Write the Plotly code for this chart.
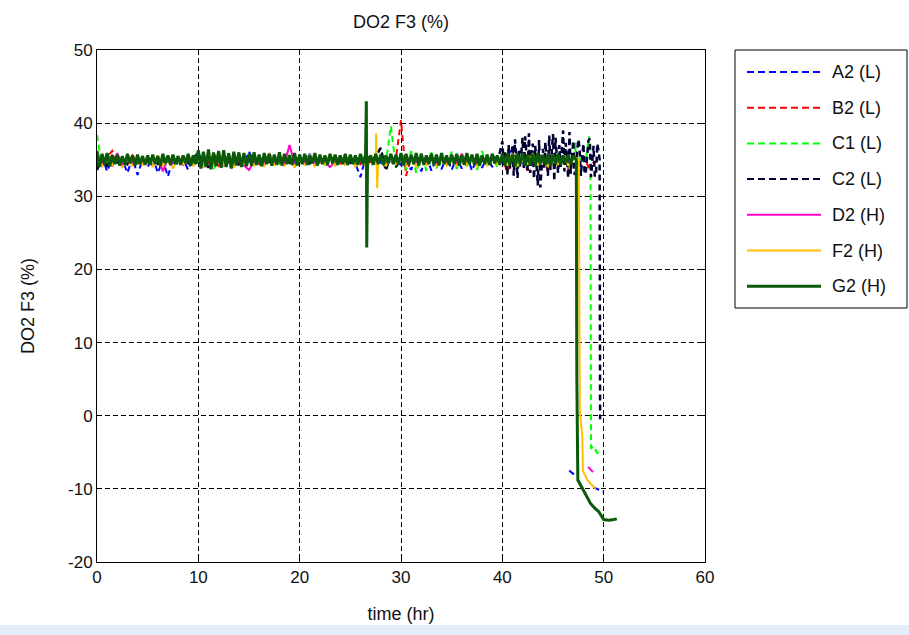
import plotly.graph_objects as go

# ---------------- data ----------------
STEP = 0.5      # hr between main samples (start at t = 0)
STEP_G2 = 0.25  # G2 logged twice as often

series_names = ["A2 (L)", "B2 (L)", "C1 (L)", "C2 (L)", "D2 (H)", "F2 (H)", "G2 (H)"]
series_colors = ["#0000FF", "#FF0000", "#00FF00", "#000033", "#FF00CC", "#FFC000", "#0A5A0A"]
series_dash = ["dash", "dash", "dash", "dash", "solid", "solid", "solid"]

a2_main = [34.2, 35.5, 33.4, 35.2, 34.5, 35.0, 33.2, 35.3, 32.9, 35.1,
           34.0, 35.4, 33.2, 35.0, 32.7, 35.2, 34.3, 35.1, 33.6, 35.3,
           36.0, 34.5, 35.2, 34.7, 35.4, 34.6, 35.3, 34.8, 35.5, 34.5,
           36.1, 34.6, 35.3, 34.4, 35.2, 34.7, 35.5, 34.5, 35.1, 34.8,
           35.3, 34.6, 35.8, 34.5, 35.2, 34.7, 35.4, 34.6, 35.0, 34.8,
           35.2, 34.5, 32.6, 35.3, 34.7, 35.1, 34.6, 35.4, 34.5, 35.2,
           34.3, 35.1, 33.6, 35.4, 33.4, 35.6, 33.5, 35.2, 33.7, 35.5,
           33.6, 35.3, 33.8, 35.7, 33.5, 35.2, 33.9, 35.4, 34.0, 35.6,
           34.2, 35.3, 36.8, 34.5, 35.2, 34.3, 35.4, 34.6, 35.1, 34.5,
           35.3, 34.6, 35.2]
a2_extra_t = [46.3, 46.6, 47.3, 47.5, 49.0, 50.0]
a2_extra_v = [None, -7.5, -8.3, None, -9.8, -10.4]

b2_main = [35.0, 34.3, 35.4, 36.2, 34.6, 35.3, 34.4, 35.6, 34.5, 35.1,
           34.6, 35.3, 34.4, 35.2, 34.7, 35.0, 34.5, 35.4, 34.6, 35.2,
           34.4, 35.5, 34.6, 35.3, 34.2, 35.4, 34.7, 35.1, 34.5, 35.3,
           34.6, 35.2, 34.4, 35.5, 34.7, 35.1, 34.5, 35.3, 34.6, 35.2,
           34.8, 35.0, 34.5, 35.4, 34.6, 35.2, 34.7, 35.1, 34.5, 35.3,
           34.6, 35.2, 34.4, 35.3, 34.7, 35.1, 34.5, 35.6, 34.3, 35.2,
           40.4, 32.8, 35.3, 34.5, 35.2, 34.6, 35.1, 34.4, 35.3, 34.6,
           35.2, 34.5, 35.4, 34.7, 35.1, 34.4, 35.3, 34.6, 35.2, 34.5,
           35.4, 33.2, 35.6, 34.0, 35.3, 33.5, 35.5, 34.2, 35.2, 33.6,
           35.4, 34.1, 35.6, 33.8, 35.3]
b2_extra_t = [47.5, 48.0, 48.5, 49.0]
b2_extra_v = [34.4, 35.5, 34.0, 34.6]

c1_main = [38.4, 34.0, 36.0, 34.5, 35.4, 34.2, 35.6, 34.6, 35.1, 34.4,
           35.3, 34.5, 35.0, 34.3, 35.4, 34.6, 35.2, 34.7, 35.5, 34.3,
           35.4, 34.1, 35.7, 33.6, 35.3, 34.2, 35.6, 34.4, 35.2, 34.5,
           35.5, 34.6, 35.3, 34.4, 35.1, 34.7, 35.4, 34.3, 35.6, 34.5,
           35.2, 34.6, 35.5, 34.4, 35.3, 34.2, 35.7, 34.5, 35.1, 34.6,
           35.4, 34.3, 35.2, 34.6, 35.5, 34.4, 35.3, 34.5, 39.6, 33.9,
           35.8, 33.6, 36.2, 33.2, 35.9, 33.5, 36.0, 33.8, 35.7, 34.0,
           36.1, 33.7, 35.9, 34.1, 35.6, 33.6, 36.2, 34.0, 35.8, 33.9,
           35.6, 34.2, 35.4, 33.8, 35.9, 34.3, 35.5, 34.1, 35.7, 34.4,
           35.3, 34.2, 35.6, 34.0, 35.4]
c1_extra_t = [47.2, 47.3, 47.6, 48.0, 48.3, 48.55, 48.7, 48.75, 49.1, 49.3, 49.8]
c1_extra_v = [37.3, 32.5, 35.2, 34.8, 35.5, 38.2, 35.0, -4.4, -4.2, -5.0, -5.5]

c2_main = [33.6, 35.3, 34.2, 35.5, 34.6, 35.1, 34.4, 35.2, 34.8, 35.0,
           34.7, 35.3, 34.5, 35.1, 34.6, 35.2, 34.9, 35.0, 34.5, 35.4,
           34.2, 35.6, 33.9, 35.8, 34.5, 35.3, 34.7, 35.5, 34.4, 35.2,
           34.8, 35.1, 34.6, 35.3, 34.7, 35.2, 34.9, 35.0, 34.6, 35.4,
           34.7, 35.2, 34.5, 35.3, 34.8, 35.1, 34.6, 35.4, 34.9, 35.0,
           34.6, 35.3, 34.8, 35.2, 34.7, 35.5, 36.6, 33.5, 35.8, 34.0,
           35.4, 34.6, 35.2, 34.8, 35.3, 34.5, 35.6, 34.7, 35.1, 34.6,
           35.3, 34.7, 35.5, 34.4, 35.2, 34.6, 35.4, 34.3, 35.7, 34.5,
           37.5, 33.0, 36.8, 32.5, 38.0, 33.5, 37.2, 31.5, 36.5, 32.8,
           38.5, 33.2, 39.0, 32.5, 37.6]
c2_extra_t = [40.125, 40.25, 40.625, 40.75, 41.125, 41.25, 41.625, 41.75,
              42.125, 42.25, 42.625, 42.75, 43.125, 43.25, 43.625, 43.75,
              44.125, 44.25, 44.625, 44.75, 45.125, 45.25, 45.625, 45.75,
              46.125, 46.25, 46.625, 46.75, 47.125, 47.25, 47.5, 47.625,
              47.75, 48.0, 48.125, 48.25, 48.5, 48.625, 48.75, 49.0,
              49.125, 49.25, 49.375, 49.5, 49.6, 49.65]
c2_extra_v = [34.5, 36.2, 37.0, 33.8, 32.8, 37.8, 36.4, 34.0,
              33.6, 38.2, 38.6, 33.2, 32.4, 36.9, 37.7, 31.2,
              33.9, 37.4, 38.3, 33.6, 32.1, 38.0, 37.0, 34.0,
              33.4, 37.3, 38.8, 33.1, 32.9, 34.2, 37.8, 36.6,
              32.8, 37.2, 33.0, 33.5, 37.6, 37.9, 32.6, 36.9,
              32.7, 33.2, 37.2, 36.2, 35.0, -0.5]

d2_main = [35.2, 34.5, 35.6, 34.1, 35.9, 34.3, 35.0, 34.6, 35.3, 34.4,
           35.1, 34.2, 35.4, 33.4, 35.2, 34.5, 35.0, 34.3, 35.5, 34.6,
           35.3, 34.0, 35.6, 34.4, 35.2, 34.1, 35.7, 34.3, 35.0, 34.2,
           33.6, 34.8, 35.4, 34.5, 35.9, 34.6, 35.3, 34.4, 37.0, 34.5,
           35.4, 34.7, 35.6, 34.3, 35.2, 34.6, 34.0, 34.8, 35.5, 34.4,
           35.3, 34.6, 35.1, 34.5, 35.4, 34.7, 35.2, 34.4, 35.6, 34.6,
           35.3, 34.5, 35.1, 34.8, 35.5, 34.6, 35.2, 34.4, 35.3, 34.7,
           35.4, 34.6, 35.8, 34.5, 35.2, 34.7, 35.3, 34.6, 35.1, 34.8,
           35.3, 34.5, 35.6, 34.7, 35.2, 34.6, 35.4, 34.5, 35.3, 34.7,
           35.2, 34.6, 35.4, 34.8, 35.1]
d2_extra_t = [47.2, 48.45, 48.95]
d2_extra_v = [None, -7.0, -7.7]

f2_main = [36.3, 34.0, 35.6, 34.2, 35.4, 33.9, 35.2, 34.1, 35.5, 34.3,
           35.3, 34.0, 35.6, 34.2, 35.1, 33.8, 35.4, 34.3, 35.7, 34.1,
           35.2, 34.0, 35.9, 34.3, 36.0, 34.2, 35.5, 33.9, 35.8, 34.4,
           35.6, 34.1, 35.4, 34.0, 35.9, 34.3, 35.2, 34.1, 35.6, 33.9,
           35.3, 34.2, 35.7, 34.0, 35.5, 34.3, 35.8, 34.1, 35.4, 34.2,
           35.6, 34.0, 35.3, 34.2, 35.5, 34.4, 35.2, 34.1, 35.6, 34.3,
           35.5, 34.2, 35.4, 34.0, 35.7, 34.3, 35.2, 34.1, 35.5, 34.2,
           35.3, 34.1, 35.6, 34.3, 35.4, 34.0, 35.5, 34.2, 35.3, 34.4,
           35.6, 34.2, 35.8, 34.1, 35.5, 34.3, 35.9, 34.2, 35.6, 34.0,
           35.7, 34.3, 35.5, 34.2, 35.4]
f2_extra_t = [27.55, 27.65, 27.75, 47.55, 47.65, 47.9, 47.95, 48.4, 49.2]
f2_extra_v = [38.6, 31.1, 35.0, 35.0, 0.5, -3.0, -7.5, -8.8, -10.0]

g2_main = [36.2, 34.0, 35.8, 34.3, 35.9, 34.1, 35.6, 34.4, 35.7, 34.2,
           35.5, 34.3, 35.8, 34.5, 35.6, 34.2, 35.7, 34.4, 35.5, 34.3,
           35.6, 34.3, 35.7, 34.4, 35.5, 34.2, 35.8, 34.5, 35.6, 34.3,
           35.7, 34.4, 35.5, 34.3, 35.6, 34.5, 35.8, 34.2, 35.6, 34.4,
           36.3, 33.8, 36.1, 34.0, 36.4, 33.7, 36.0, 34.1, 36.2, 33.9,
           36.3, 34.0, 35.9, 33.8, 36.1, 34.2, 36.0, 34.0, 35.9, 34.1,
           35.8, 34.2, 36.0, 34.3, 35.7, 34.1, 35.9, 34.4, 35.8, 34.2,
           35.7, 34.3, 36.0, 34.2, 35.8, 34.4, 35.6, 34.3, 35.9, 34.2,
           35.7, 34.4, 35.8, 34.3, 35.6, 34.5, 35.9, 34.2, 35.7, 34.4,
           35.6, 34.3, 35.8, 34.5, 35.7, 34.3, 35.6, 34.4, 35.8, 34.3,
           35.7, 34.4, 35.6, 34.3, 35.8, 34.4, 35.7, 34.5, 35.6, 34.3,
           35.8, 34.4, 35.7, 34.3, 35.6, 34.5, 35.8, 34.4, 35.7, 34.3,
           35.9, 34.2, 35.8, 34.3, 35.7, 34.4, 35.9, 34.2, 35.8, 34.3,
           35.6, 34.4, 35.8, 34.3, 35.7, 34.2, 35.9, 34.4, 35.6, 34.3,
           35.7, 34.4, 35.8, 34.2, 35.6, 34.3, 35.9, 34.4, 35.7, 34.3,
           35.8, 34.2, 35.6, 34.4, 35.7, 34.3, 35.8, 34.5, 35.6, 34.3,
           35.8, 34.2, 35.9, 34.3, 35.7, 34.1, 35.8, 34.4, 35.9, 34.2,
           35.7, 34.3, 35.8, 34.2, 35.9, 34.4, 35.6, 34.3, 35.8, 34.2,
           35.7, 34.4, 35.8, 34.3, 35.6, 34.5, 35.7, 34.4, 35.5]
g2_extra_t = [26.58, 26.62, 26.7, 47.3, 47.35, 47.45, 48.0, 48.3, 48.7, 49.1,
              49.5, 50.0, 50.5, 51.0, 51.3]
g2_extra_v = [43.0, 23.0, 35.5, 35.0, 5.6, -8.8, -10.2, -11.0, -12.0, -12.6,
              -13.1, -14.2, -14.3, -14.2, -14.1]

x_ticks = [0, 10, 20, 30, 40, 50, 60]
y_ticks = [-20, -10, 0, 10, 20, 30, 40, 50]

mains = [a2_main, b2_main, c1_main, c2_main, d2_main, f2_main, g2_main]
steps = [STEP, STEP, STEP, STEP, STEP, STEP, STEP_G2]
extras_t = [a2_extra_t, b2_extra_t, c1_extra_t, c2_extra_t, d2_extra_t, f2_extra_t, g2_extra_t]
extras_v = [a2_extra_v, b2_extra_v, c1_extra_v, c2_extra_v, d2_extra_v, f2_extra_v, g2_extra_v]


def build(main_vals, step, et, ev):
    t = [i * step for i in range(len(main_vals))] + list(et)
    v = list(main_vals) + list(ev)
    order = sorted(range(len(t)), key=lambda k: t[k])
    return [t[k] for k in order], [v[k] for k in order]


# ---------------- figure ----------------
W, H = 909, 635
L, R, T, B = 97, 705, 50, 562  # plot-area pixel box
FONT = "Liberation Sans Narrow, Arial Narrow, Liberation Sans, Arial, sans-serif"
TXT = "#111111"

fig = go.Figure()
widths = [2, 2, 2, 2.5, 2, 2, 3]
for i, name in enumerate(series_names):
    tx, vy = build(mains[i], steps[i], extras_t[i], extras_v[i])
    fig.add_trace(go.Scatter(
        x=tx, y=vy, mode="lines", name=name,
        line=dict(color=series_colors[i], width=widths[i],
                  dash="6px,4px" if series_dash[i] == "dash" else "solid"),
        connectgaps=False, showlegend=False, hoverinfo="skip"))


def px_x(p):
    return (p - L) / (R - L)


def px_y(p):
    return (B - p) / (B - T)


axis_common = dict(
    showline=True, linecolor="black", linewidth=1, mirror="ticks",
    ticks="inside", ticklen=5, tickcolor="black",
    showgrid=True, gridcolor="black", gridwidth=1, griddash="5px,3px",
    zeroline=False, tickfont=dict(family=FONT, size=17, color=TXT),
)

fig.update_layout(
    width=W, height=H,
    margin=dict(l=L, r=W - R, t=T, b=H - B, pad=0),
    paper_bgcolor="white", plot_bgcolor="white",
    font=dict(family=FONT, size=17, color=TXT),
    title=dict(text="DO2 F3 (%)", x=px_x((L + R) / 2), xref="paper", xanchor="center",
               y=1 - 22 / H, yanchor="middle", font=dict(family=FONT, size=18, color=TXT)),
    xaxis=dict(range=[0, 60], tickvals=x_ticks, ticktext=[str(v) for v in x_ticks],
               title=dict(text="time (hr)", font=dict(family=FONT, size=18, color=TXT), standoff=20),
               **axis_common),
    yaxis=dict(range=[-20, 50], tickvals=y_ticks, ticktext=[str(v) for v in y_ticks],
               title=dict(text="DO2 F3 (%)", font=dict(family=FONT, size=18, color=TXT), standoff=28),
               **axis_common),
    showlegend=False,
)

# manual legend box (MATLAB-style)
lg_l, lg_r, lg_t, lg_b = 735, 907, 50, 308
fig.add_shape(type="rect", xref="paper", yref="paper",
              x0=px_x(lg_l), x1=px_x(lg_r), y0=px_y(lg_b), y1=px_y(lg_t),
              line=dict(color="black", width=1), fillcolor="white", layer="above")
row0, row_gap = 72, 35.7
for i, name in enumerate(series_names):
    yy = px_y(row0 + i * row_gap)
    fig.add_shape(type="line", xref="paper", yref="paper",
                  x0=px_x(747), x1=px_x(821), y0=yy, y1=yy,
                  line=dict(color=series_colors[i], width=3 if i == 6 else 2,
                            dash="7px,4px" if series_dash[i] == "dash" else "solid"),
                  layer="above")
    fig.add_annotation(xref="paper", yref="paper", x=px_x(830), y=yy, text=name,
                       showarrow=False, xanchor="left", yanchor="middle",
                       font=dict(family=FONT, size=18, color=TXT))

# light blue strip at the bottom of the window
fig.add_shape(type="rect", xref="paper", yref="paper",
              x0=px_x(0), x1=px_x(W), y0=px_y(H), y1=px_y(625),
              line=dict(width=0), fillcolor="#E4EEF9", layer="below")

fig.write_html("out.html")
